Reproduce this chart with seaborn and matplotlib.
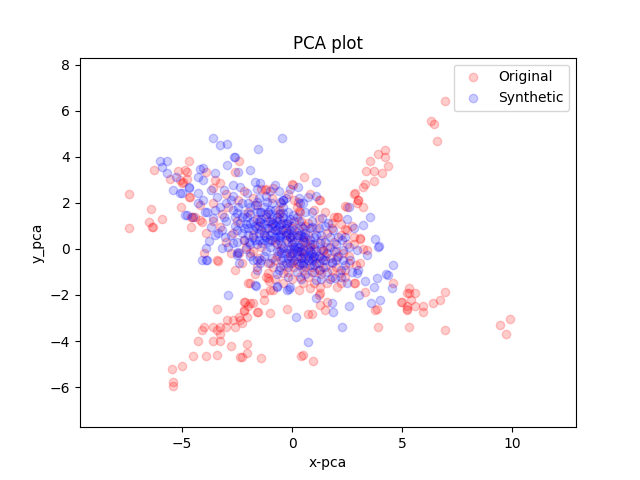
import matplotlib
matplotlib.use("Agg")
import matplotlib.pyplot as plt
import seaborn as sns
import pandas as pd

# Original (red) points: (x, y)
orig_pts = [
    # up-right arm
    (4.2, 4.3), (3.9, 4.1), (4.2, 4.0), (3.55, 3.8), (4.36, 3.6), (3.36, 3.4), (3.7, 3.4), (4.1, 3.3),
    (3.7, 2.96), (3.3, 2.8), (3.2, 2.7), (2.8, 2.4), (3.0, 2.1), (2.95, 2.0), (3.2, 1.8), (2.4, 1.87),
    (2.1, 1.4), (1.9, 1.4), (2.4, 0.87), (2.8, 0.52), (3.1, 0.43), (3.2, 0.0), (0.55, 3.1), (0.0, 2.8),
    (-1.2, 2.6), (-0.86, 2.65), (1.2, 2.1), (0.3, 1.65), (2.86, 2.43), (3.0, 2.13), (2.5, 1.83),
    (2.05, 1.39), (1.8, 1.13), (0.05, 2.78), (1.27, 2.13), (0.36, 1.6), (2.5, 0.83), (3.1, 0.48),
    (3.4, -0.04), (3.1, -0.6), (2.8, -1.48), (0.7, 1.13), (-0.55, 1.57),
    # far upper-right outliers
    (6.95, 6.4), (6.3, 5.55), (6.45, 5.4), (6.6, 4.7),
    # down-right arm
    (5.3, -1.7), (5.2, -1.9), (5.6, -1.9), (5.4, -2.2), (5.0, -2.3), (5.2, -2.5), (5.2, -2.65),
    (5.6, -2.5), (5.95, -2.5), (5.95, -2.75), (6.4, -2.35), (6.7, -2.2), (6.95, -1.87), (5.3, -3.4),
    (6.95, -3.5), (9.45, -3.3), (9.9, -3.05), (9.7, -3.7), (3.9, -3.4), (2.18, -1.04), (2.86, -1.48),
    (3.3, -1.87), (3.77, -2.65), (3.85, -2.6), (4.6, -1.48), (4.95, -2.3), (5.2, -2.6), (5.3, -1.9),
    (1.27, -1.91), (1.5, -2.65), (1.27, -2.43), (1.6, -2.3), (1.27, -1.65), (2.05, -1.65),
    # bottom centre
    (0.95, -4.87), (0.4, -4.65), (0.5, -4.6), (-0.23, -2.6), (0.7, -2.83), (0.9, -2.83),
    # down-left arm
    (-1.4, -4.74), (-2.05, -4.13), (-2.05, -4.52), (-2.36, -4.7), (-1.0, -2.78), (-1.55, -2.74),
    (-2.05, -2.96), (-2.2, -2.65), (-2.14, -2.3), (-1.77, -2.35), (-1.9, -1.48), (-1.3, -1.91),
    (-0.86, -1.78), (-1.09, -1.04), (-0.4, -1.48), (-3.4, -0.5), (-2.0, -1.5), (-2.2, -2.3),
    (-3.4, -2.6), (-2.95, -3.1), (-2.7, -3.1), (-2.3, -3.2), (-2.4, -2.95), (-2.2, -2.7), (-2.0, -2.5),
    (-4.1, -3.5), (-3.6, -3.4), (-3.4, -3.5), (-3.3, -3.4), (-3.0, -3.4), (-2.6, -3.4), (-3.3, -3.7),
    (-3.3, -4.0), (-3.6, -4.0), (-4.3, -4.0), (-2.8, -4.2), (-4.5, -4.65), (-3.9, -4.65),
    (-3.4, -4.6), (-2.3, -4.7), (-5.0, -5.1), (-5.45, -5.2), (-5.4, -5.8), (-5.4, -5.95),
    (-3.36, -0.52), (-4.0, -0.2), (-1.6, -0.78), (-1.1, -1.26), (-1.05, -1.4), (-1.0, -1.78),
    (-1.9, -2.35), (-1.3, -2.2), (-1.6, -2.74), (-2.36, -3.09), (-4.0, -3.4), (-1.9, -0.17),
    # up-left arm and outliers
    (-7.4, 2.4), (-7.4, 0.9), (-6.4, 1.74), (-6.5, 1.17), (-6.36, 0.93), (-5.9, 1.3), (-6.27, 3.43),
    (-5.55, 3.04), (-5.2, 3.4), (-4.8, 3.35), (-4.7, 3.8), (-4.8, 3.04), (-4.95, 2.9), (-5.0, 2.85),
    (-4.7, 2.27), (-5.05, 1.8), (-4.6, 1.4), (-4.4, 1.4), (-4.6, 0.95), (-4.1, 1.17), (-3.9, 3.35),
    (-3.6, 2.0), (-2.4, 3.8), (-2.6, 3.35), (-3.3, 2.85), (-3.6, 2.65), (-4.86, 3.43), (-3.5, 3.0),
    (-4.64, 2.26), (-5.1, 3.0), (-1.23, 2.57), (0.27, 2.04), (-4.2, 1.9), (-2.9, 1.83), (-4.55, 1.39),
    (-4.2, 1.26), (-3.27, 0.96), (-2.45, 2.13), (-6.3, 0.96),
    # dense centre
    (-2.5, 1.2), (-2.2, 0.4), (-2.0, 1.6), (-1.8, -0.1), (-1.6, 1.3), (-1.5, -0.4), (-1.3, 0.7),
    (-1.1, -0.6), (-1.0, 1.2), (-0.9, 0.4), (-0.7, -0.3), (-0.6, 1.7), (-0.5, 0.8), (-0.4, -0.7),
    (-0.3, 1.1), (-0.2, 0.3), (-0.1, -0.3), (0.0, 0.9), (0.1, -0.8), (0.2, 0.5), (0.3, -0.3),
    (0.4, 1.2), (0.5, 0.0), (0.6, -0.8), (0.7, 0.6), (0.8, -0.4), (0.9, 0.2), (1.0, -1.0),
    (1.1, 0.9), (1.2, -0.6), (1.3, 0.4), (1.4, -0.1), (1.5, -0.8), (1.6, 0.7), (1.7, -0.4),
    (1.9, 0.3), (2.0, -0.8), (2.2, 0.6), (2.3, -0.2), (2.5, 0.2), (2.6, -0.6), (2.7, 1.0),
    (-3.0, 0.3), (-2.8, -0.2), (-3.2, 1.5), (-2.3, -0.6), (-1.2, -1.2), (-0.8, -1.3), (0.0, -1.3),
    (0.5, -1.5), (1.8, -1.2), (2.4, -1.2), (-1.8, 2.2), (-1.4, 2.6), (-0.9, 2.2), (0.8, 2.4),
    (1.5, 1.6), (0.2, 1.8), (-0.2, 2.4), (1.0, 1.7), (0.1, 0.1), (0.4, -0.1), (0.6, 0.3),
    (-0.5, 0.0), (1.0, 0.0), (0.3, 0.8), (1.27, -0.9), (0.36, -1.2), (-0.4, -1.04), (-0.86, -0.78),
    (-0.1, -0.17), (0.8, 0.09), (2.05, -0.35), (1.4, -0.04), (0.5, -0.35),
    (0.2, -0.6), (0.5, -0.9), (0.7, -1.2), (0.9, -0.8), (1.1, -0.4), (1.3, -1.1), (1.5, -0.3),
    (1.6, -1.5), (1.8, -0.9), (2.0, -0.1), (2.2, -1.5), (2.4, -0.9), (2.6, -0.3), (2.8, 0.2),
    (2.9, -0.7), (-0.1, 0.5), (-0.3, 0.7), (0.1, 1.2), (-0.6, 1.3), (-0.9, 0.9), (-1.2, 1.5),
    (-1.5, 1.0), (-1.8, 0.6), (-2.1, 0.1), (-2.4, -0.2), (-2.7, 0.7), (-1.4, 0.1), (-0.8, -0.5),
    (-0.2, -1.0), (0.3, -1.8), (0.8, -1.7), (1.2, -2.0), (0.6, 1.0), (1.2, 1.3), (1.8, 0.9),
    (2.2, 1.1), (0.1, 2.1), (-0.5, 2.0), (-1.6, 1.9), (-2.2, 2.5), (-3.0, 2.4), (-3.6, 1.2),
    (-3.9, 0.7), (-2.6, -0.9), (-1.7, -1.1), (1.0, -1.5), (0.0, -0.6), (0.5, 0.4), (-0.7, 0.2),
    (1.6, 0.1),
]

# Synthetic (blue) points: (x, y)
synth_pts = [
    # upper-left spread
    (-3.6, 4.8), (-3.3, 4.5), (-2.95, 4.57), (-1.55, 4.35), (-0.45, 4.8), (-2.64, 4.0), (-2.95, 3.65),
    (-2.45, 3.35), (-1.9, 3.43), (-4.2, 3.48), (-4.3, 3.13), (-4.05, 3.0), (-3.5, 3.3), (-1.7, 2.9),
    (-1.45, 2.87), (-0.77, 2.78), (-0.4, 2.13), (-3.1, 2.57), (-2.7, 2.78), (-2.36, 2.7), (-2.05, 2.43),
    (-5.1, 2.43), (-4.7, 2.65), (-3.7, 2.57), (-4.05, 2.13), (-3.4, 2.26), (-2.8, 2.13), (-2.45, 1.83),
    (-1.6, 2.04), (-1.14, 2.04), (-0.55, 2.04), (-4.8, 1.48), (-3.86, 1.6), (-3.1, 1.39), (-2.5, 1.57),
    (-2.05, 1.39), (-1.45, 1.6), (-1.0, 1.7), (-0.4, 1.57), (0.05, 1.48), (-2.36, 1.13), (-1.9, 1.13),
    (-1.45, 1.17), (-0.86, 1.13), (-0.23, 1.13), (-3.6, 1.35),
    (-6.0, 3.8), (-5.7, 3.8), (-5.9, 3.57), (-5.7, 3.3), (-5.3, 3.1), (-5.4, 2.57), (-5.0, 2.43),
    (-4.7, 2.7), (-4.3, 2.43), (-4.05, 3.5), (-2.6, 4.0), (-4.3, 2.0), (-4.85, 1.48), (-4.5, 1.4),
    (-3.95, 1.6), (-3.5, 1.7), (-3.7, 0.96), (-3.35, 0.7), (-3.05, 0.52), (-3.8, 0.35), (-3.9, 0.04),
    (-3.2, 0.04), (-4.1, -0.48), (-2.5, -0.17), (-3.9, -0.48), (-2.9, -2.0), (-3.86, -0.48),
    (-2.7, 0.26), (-2.45, -0.13), (-2.5, -0.26), (-2.2, 0.39), (-1.6, -0.48), (-1.45, -0.6),
    (-0.7, -1.65), (-1.64, -1.6), (-0.23, -1.78), (-0.55, -0.78),
    # right side
    (3.55, 1.39), (3.77, 0.43), (3.95, 0.13), (4.6, -0.7), (3.2, 1.04), (1.1, 2.9), (0.27, 2.7),
    (1.1, 2.3), (0.7, 2.26), (-0.4, 2.1), (0.36, 2.0), (0.9, 1.6), (1.36, 1.35), (2.6, 1.8),
    (1.86, 0.83), (2.27, 0.39), (3.9, 0.09), (2.95, -0.04), (3.4, -0.26), (2.3, -0.48), (3.0, -0.9),
    (4.36, -1.13), (3.86, -1.26), (1.95, -1.26), (2.5, -1.48), (-0.1, -1.65), (-0.55, 0.52),
    (-0.4, 1.13), (0.2, 0.09), (0.95, -0.35), (0.5, -0.6), (1.7, 0.09), (1.27, 0.26), (-0.1, 0.83),
    (0.5, 0.52), (0.9, 0.96), (1.64, 1.13), (2.3, -0.04), (2.64, -0.48), (1.4, -0.78), (1.8, -0.56),
    (1.1, -1.35), (4.27, -1.09), (4.55, -1.7), (3.7, -1.65), (4.0, -2.2), (3.6, -2.35), (3.05, -2.0),
    (2.6, -2.48), (1.86, -2.74), (1.8, -2.35), (1.1, -2.13), (2.27, -3.4), (0.7, -4.04), (0.18, -2.96),
    (-0.14, -1.74), (-0.7, -1.6), (-1.7, -1.57), (3.3, -1.39), (2.95, -1.04),
    # dense centre
    (-2.0, 0.9), (-1.8, 0.5), (-1.7, 1.0), (-1.6, 0.2), (-1.5, 0.7), (-1.4, 1.3), (-1.3, 0.4),
    (-1.2, -0.1), (-1.2, 0.9), (-1.1, 1.6), (-1.0, 0.6), (-1.0, 0.1), (-0.9, 1.1), (-0.9, -0.4),
    (-0.8, 0.8), (-0.8, 0.3), (-0.7, 1.4), (-0.7, -0.1), (-0.6, 0.6), (-0.6, 1.0), (-0.5, 0.2),
    (-0.5, -0.5), (-0.4, 0.8), (-0.4, 1.8), (-0.3, 0.4), (-0.3, -0.2), (-0.2, 1.2), (-0.2, 0.7),
    (-0.1, 0.0), (-0.1, 0.5), (0.0, 1.0), (0.0, -0.4), (0.1, 0.3), (0.1, 0.8), (0.2, 1.4),
    (0.2, -0.1), (0.3, 0.6), (0.3, 0.1), (0.4, -0.6), (0.4, 1.0), (0.5, 0.3), (0.5, -0.2),
    (0.6, 0.7), (0.7, 0.0), (0.7, -0.5), (0.8, 0.4), (0.9, -0.2), (1.0, 0.2), (1.0, -0.7),
    (1.1, 0.6), (1.2, -0.3), (1.3, 0.0), (1.4, -0.5), (1.5, 0.3), (1.6, -0.2), (1.8, -0.6),
    (2.0, 0.2), (2.1, -0.3), (2.2, -0.9), (2.4, 0.5), (-2.8, 0.6), (-2.6, 1.0), (-2.5, 0.3),
    (-2.3, 0.7), (-2.2, 1.5), (-2.1, 0.0), (-1.9, 1.8), (-1.9, -0.3), (-1.7, 1.9), (-1.5, 2.2),
    (-1.3, 1.8), (-1.2, 2.3), (-0.9, 2.0), (-0.6, 2.5), (-0.3, 2.2), (0.3, 2.2), (0.6, 1.6),
    (0.9, 1.2), (1.2, 0.9), (1.5, 1.0), (-3.0, 1.2), (-3.3, 1.8), (-2.7, 2.3), (-2.3, 2.0),
    (-3.5, 0.6), (-0.6, -0.9), (-0.2, -0.8), (0.2, -1.0), (0.6, -1.1), (1.6, -1.0), (1.3, -1.3),
    (-1.4, -0.5), (-1.6, -0.9), (-2.4, -0.6), (-0.4, 0.05), (0.0, 0.6), (-0.8, 1.7), (-1.1, 0.3),
    (0.8, 0.9), (-1.9, 0.2), (2.8, 0.9), (2.5, 1.3), (2.2, -1.2), (2.7, -1.0),
    # densest blob, upper left of centre
    (-2.3, 1.4), (-2.1, 1.1), (-2.0, 0.6), (-1.9, 1.5), (-1.8, 0.8), (-1.8, 1.2), (-1.7, 0.4),
    (-1.6, 1.6), (-1.6, 0.9), (-1.5, 1.2), (-1.5, 0.4), (-1.4, 0.8), (-1.4, 1.6), (-1.3, 1.1),
    (-1.3, 0.6), (-1.2, 1.4), (-1.2, 0.5), (-1.1, 0.9), (-1.1, 1.2), (-1.0, 0.4), (-1.0, 1.5),
    (-0.9, 0.7), (-0.9, 1.3), (-0.8, 1.0), (-0.8, 0.5), (-0.7, 1.2), (-0.7, 0.8), (-0.6, 0.4),
    (-0.6, 1.5), (-0.5, 1.1), (-0.5, 0.6), (-0.4, 1.4), (-0.3, 0.9), (-0.3, 0.6), (-0.2, 1.6),
    (-2.2, 0.9), (-2.5, 0.8), (-2.6, 1.4), (-1.95, 0.3), (-1.35, 0.25),
    # dense blob, lower right of centre
    (-0.5, -0.2), (-0.4, -0.4), (-0.3, -0.6), (-0.2, 0.0), (-0.2, -0.4), (-0.1, -0.6), (0.0, -0.2),
    (0.1, -0.5), (0.1, 0.0), (0.2, -0.3), (0.3, -0.7), (0.3, -0.1), (0.4, -0.4), (0.5, -0.7),
    (0.6, -0.4), (0.6, -0.1), (0.7, -0.3), (0.8, -0.7), (0.8, -0.1), (0.9, -0.5), (1.0, -0.3),
    (1.1, -0.6), (1.1, -0.1), (1.2, -0.9), (1.3, -0.4), (0.0, 0.2), (0.4, 0.2), (-0.6, -0.1),
    (0.0, 0.4), (0.2, 0.6), (0.4, 0.6), (0.6, 0.5), (0.8, 0.2), (1.0, 0.5), (-0.1, 1.3),
    (0.3, 1.2), (0.5, 0.9), (1.3, 0.6), (1.7, 0.5), (1.9, -0.1), (2.1, 0.5), (1.5, -0.5),
    (2.0, -0.5), (2.4, -0.7), (2.6, 0.1), (-2.7, 1.7), (-3.0, 2.0), (-2.0, 2.0), (-1.6, 2.6),
    (-1.0, 2.5), (-0.1, 2.6), (0.5, 2.0), (-3.2, 0.8), (-2.9, 0.1), (-1.0, -0.6), (-1.3, -0.3),
    (-0.7, -1.1), (-0.2, -1.2), (0.4, -1.3), (0.9, -1.0), (1.7, -1.3), (-1.8, -0.5),
]

orig_x = [p[0] for p in orig_pts]
orig_y = [p[1] for p in orig_pts]
synth_x = [p[0] for p in synth_pts]
synth_y = [p[1] for p in synth_pts]

df_o = pd.DataFrame({"x": orig_x, "y": orig_y})
df_s = pd.DataFrame({"x": synth_x, "y": synth_y})

fig, ax = plt.subplots(figsize=(6.4, 4.8), dpi=100)
sns.scatterplot(data=df_o, x="x", y="y", color="red", alpha=0.2, s=36,
                edgecolor="red", linewidth=1, label="Original", ax=ax)
sns.scatterplot(data=df_s, x="x", y="y", color="blue", alpha=0.2, s=36,
                edgecolor="blue", linewidth=1, label="Synthetic", ax=ax)

ax.set_xlim(-9.64, 12.9)
ax.set_ylim(-7.74, 8.3)
ax.set_xticks([-5, 0, 5, 10])
ax.set_yticks([-6, -4, -2, 0, 2, 4, 6, 8])
ax.set_title("PCA plot")
ax.set_xlabel("x-pca")
ax.set_ylabel("y_pca")
ax.legend(loc="upper right")

fig.savefig("out.png", dpi=100)
